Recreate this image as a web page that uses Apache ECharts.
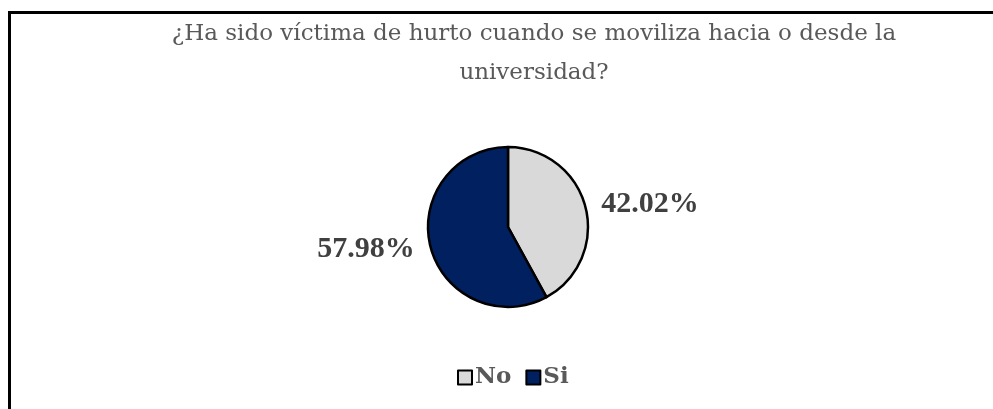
<!DOCTYPE html>
<html>
<head>
<meta charset="utf-8">
<script src="https://cdn.jsdelivr.net/npm/echarts@6/dist/echarts.min.js"></script>
<style>
  html, body { margin: 0; padding: 0; background: #fff; }
  #frame {
    position: absolute;
    left: 8px; top: 11px;
    width: 985px; height: 398px;
    border-top: 3px solid #000;
    border-left: 3px solid #000;
  }
  #chart { position: absolute; left: 0; top: 0; width: 993px; height: 409px; }
</style>
</head>
<body>
<div id="frame"></div>
<div id="chart"></div>
<script>
var titleText = "¿Ha sido víctima de hurto cuando se moviliza hacia o desde la\nuniversidad?";
var categories = ["No", "Si"];
var values = [42.02, 57.98];
var colors = ["#d9d9d9", "#002060"];

var chartDom = document.getElementById("chart");
var myChart = echarts.init(chartDom);

var pieData = categories.map(function (name, i) {
  return { name: name, value: values[i], itemStyle: { color: colors[i] } };
});

var option = {
  animation: false,
  title: {
    text: titleText,
    left: 529,
    top: 10,
    textAlign: "center",
    textStyle: {
      fontFamily: "DejaVu Serif",
      fontWeight: "normal",
      fontSize: 23,
      color: "#595959",
      lineHeight: 39
    }
  },
  legend: {
    bottom: 15,
    left: 452,
    icon: "rect",
    itemWidth: 14,
    itemHeight: 14,
    itemGap: 14,
    textStyle: {
      fontFamily: "DejaVu Serif",
      fontWeight: "bold",
      fontSize: 23,
      color: "#595959",
      padding: [0, 0, 0, -2]
    },
    data: categories
  },
  series: [
    {
      type: "pie",
      center: [508, 227],
      radius: 80,
      startAngle: 90,
      clockwise: true,
      itemStyle: { borderColor: "#000", borderWidth: 2.5 },
      label: {
        show: true,
        position: "outside",
        formatter: function (p) { return p.value.toFixed(2) + "%"; },
        fontFamily: "Liberation Serif",
        fontWeight: "bold",
        fontSize: 30,
        color: "#404040"
      },
      labelLine: { show: false, length: 11, length2: 0 },
      emphasis: { disabled: true },
      data: pieData
    }
  ]
};

option && myChart.setOption(option);
</script>
</body>
</html>
